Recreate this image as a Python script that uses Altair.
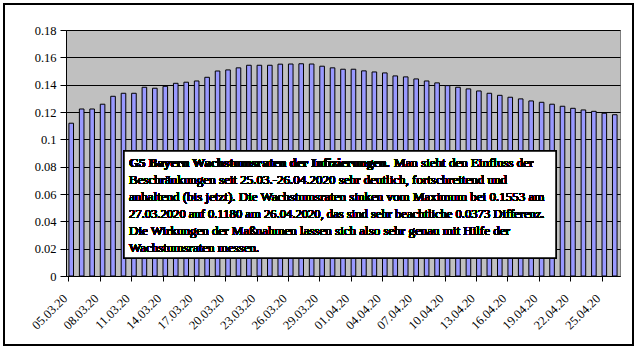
import altair as alt
import pandas as pd

dates = [d.strftime("%d.%m.%y") for d in pd.date_range("2020-03-05", "2020-04-26")]
rates = [
    0.1118, 0.1222, 0.1222, 0.1257, 0.1315, 0.1337, 0.1337, 0.1381, 0.1374, 0.1388,
    0.1410, 0.1418, 0.1427, 0.1454, 0.1500, 0.1508, 0.1523, 0.1542, 0.1542, 0.1542,
    0.1550, 0.1551, 0.1553, 0.1551, 0.1535, 0.1523, 0.1513, 0.1513, 0.1501, 0.1493,
    0.1486, 0.1464, 0.1457, 0.1442, 0.1427, 0.1413, 0.1393, 0.1381, 0.1369, 0.1354,
    0.1337, 0.1322, 0.1308, 0.1296, 0.1281, 0.1271, 0.1257, 0.1242, 0.1227, 0.1215,
    0.1205, 0.1191, 0.1180,
]
tick_dates = dates[::3]
y_ticks = [0, 0.02, 0.04, 0.06, 0.08, 0.1, 0.12, 0.14, 0.16, 0.18]

title_bold = "G5 Bayern Wachstumsraten der Infizierungen."
title_rest = "Man sieht den Einfluss der"
body_lines = [
    "Beschränkungen seit 25.03.-26.04.2020 sehr deutlich, fortschreitend und",
    "anhaltend (bis jetzt). Die Wachstumsraten sinken vom Maximum bei 0.1553 am",
    "27.03.2020 auf 0.1180 am 26.04.2020, das sind sehr beachtliche 0.0373 Differenz.",
    "Die Wirkungen der Maßnahmen lassen sich also sehr genau mit Hilfe der",
    "Wachstumsraten messen.",
]
body_sizes = [13, 13, 12.6, 13, 13]

df = pd.DataFrame({"date": dates, "rate": rates})
FONT = "Liberation Serif"

bars = alt.Chart(df).mark_bar(
    color="#9999FF", stroke="#000000", strokeWidth=1
).encode(
    x=alt.X(
        "date:O",
        sort=None,
        scale=alt.Scale(paddingInner=0.56, paddingOuter=0.28),
        axis=alt.Axis(
            values=tick_dates,
            title=None,
            bandPosition=0,
            labelAngle=-45,
            labelAlign="right",
            labelBaseline="middle",
            labelOffset=-6,
            labelPadding=15,
            labelFont=FONT,
            labelFontSize=12.5,
            labelFontWeight="normal",
            labelColor="#000000",
            tickColor="#000000",
            tickSize=5,
            domainColor="#000000",
            grid=False,
        ),
    ),
    y=alt.Y(
        "rate:Q",
        scale=alt.Scale(domain=[0, 0.18], nice=False, zero=True),
        axis=alt.Axis(
            values=y_ticks,
            title=None,
            labelExpr="format(datum.value, '.2~f')",
            labelFont=FONT,
            labelFontSize=12.5,
            labelFontWeight="normal",
            labelColor="#000000",
            labelPadding=4,
            tickColor="#000000",
            tickSize=6,
            domainColor="#000000",
            grid=True,
            gridColor="#000000",
            gridWidth=1,
            gridOpacity=1,
        ),
    ),
)

box = alt.Chart(df).mark_rect(
    fill="white", stroke="black", strokeWidth=1.5
).encode(
    x=alt.value(58), x2=alt.value(490), y=alt.value(121), y2=alt.value(228)
)

text_layers = [
    alt.Chart(df).mark_text(
        text=title_bold, font=FONT, fontSize=13, fontWeight="bold",
        align="left", baseline="alphabetic", color="black"
    ).encode(x=alt.value(63), y=alt.value(137)),
    alt.Chart(df).mark_text(
        text=title_rest, font=FONT, fontSize=13, fontWeight="normal",
        align="left", baseline="alphabetic", color="black"
    ).encode(x=alt.value(328), y=alt.value(137)),
]
for i, (line, size) in enumerate(zip(body_lines, body_sizes)):
    text_layers.append(
        alt.Chart(df).mark_text(
            text=line, font=FONT, fontSize=size, fontWeight="normal",
            align="left", baseline="alphabetic", color="black"
        ).encode(x=alt.value(63), y=alt.value(154 + 17 * i))
    )

frame = alt.Chart(df).mark_rect(
    fill=None, stroke="black", strokeWidth=1.5
).encode(
    x=alt.value(-62), x2=alt.value(567), y=alt.value(-26), y2=alt.value(315)
)

chart = alt.layer(bars, box, *text_layers, frame).properties(
    width=554,
    height=246,
    padding={"left": 66, "top": 30, "right": 18, "bottom": 75},
    autosize=alt.AutoSizeParams(type="none"),
    background="white",
).configure_view(
    fill="#C0C0C0", stroke="#808080", strokeWidth=1
)

chart.save("out.html", embed_options={"renderer": "svg", "actions": False})
